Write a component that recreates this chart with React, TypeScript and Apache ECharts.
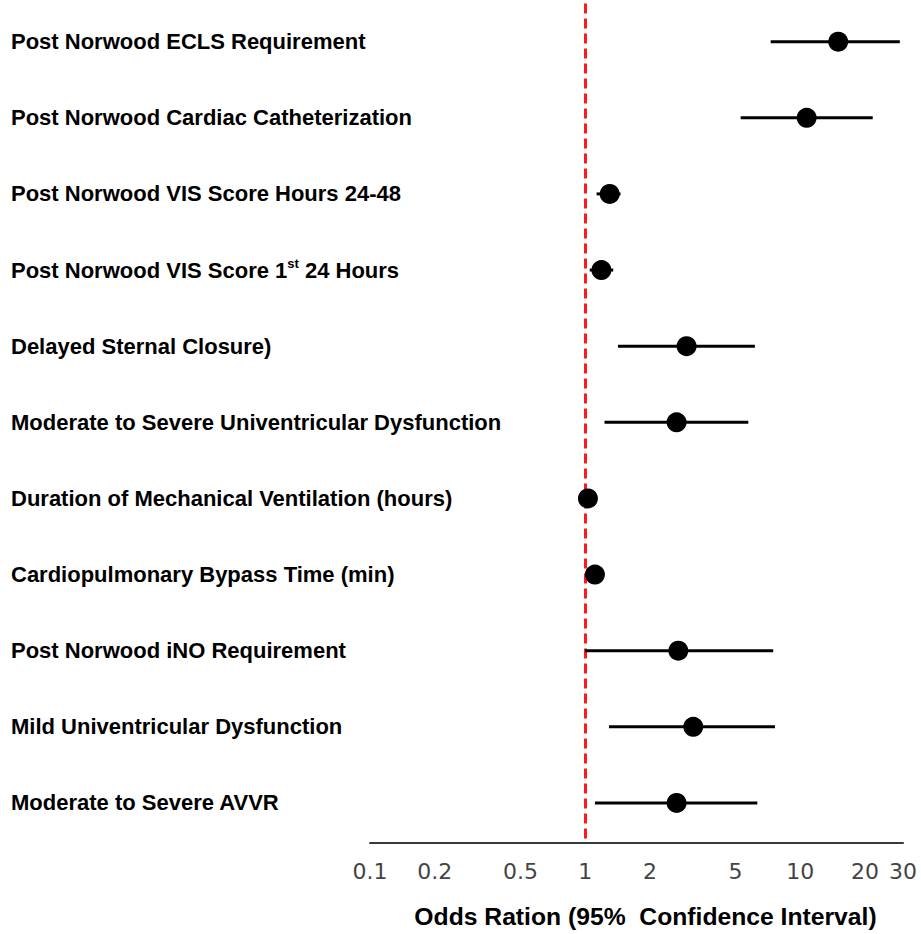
import React, { useEffect, useRef } from "react";
import * as echarts from "echarts";

const categories = [
  "Post Norwood ECLS Requirement",
  "Post Norwood Cardiac Catheterization",
  "Post Norwood VIS Score Hours 24-48",
  "Post Norwood VIS Score 1st 24 Hours",
  "Delayed Sternal Closure)",
  "Moderate to Severe Univentricular Dysfunction",
  "Duration of Mechanical Ventilation (hours)",
  "Cardiopulmonary Bypass Time (min)",
  "Post Norwood iNO Requirement",
  "Mild Univentricular Dysfunction",
  "Moderate to Severe AVVR",
];

const oddsRatio = [15.0, 10.7, 1.3, 1.19, 2.96, 2.66, 1.03, 1.11, 2.71, 3.18, 2.66];
const lowerCI = [7.28, 5.28, 1.13, 1.05, 1.42, 1.23, 1.0, 1.06, 1.0, 1.29, 1.11];
const upperCI = [29.0, 21.7, 1.46, 1.35, 6.15, 5.73, 1.06, 1.17, 7.48, 7.62, 6.31];

const xTicks = [0.1, 0.2, 0.5, 1, 2, 5, 10, 20, 30];
const xTitle = "Odds Ration (95%  Confidence Interval)";
const refValue = 1;

const LABEL_FONT = "'Liberation Sans', Arial, Helvetica, sans-serif";

function buildOption(useCustomValues: boolean): any {
  const axisLabel: any = {
    fontSize: 22,
    color: "#444",
    fontFamily: "'DejaVu Sans', sans-serif",
    margin: 17,
    formatter: (v: number) => String(Number(Number(v).toPrecision(6))),
  };
  if (useCustomValues) axisLabel.customValues = xTicks;
  return {
    animation: false,
    backgroundColor: "#ffffff",
    grid: {
      left: 370,
      right: 18,
      top: 3.6,
      bottom: 92.6,
      containLabel: false,
    },
    xAxis: {
      type: "log",
      logBase: 10,
      min: 0.1,
      max: 30,
      position: "bottom",
      offset: 2,
      name: xTitle,
      nameLocation: "middle",
      nameGap: 61,
      nameTextStyle: {
        fontSize: 24.7,
        fontWeight: "bold",
        color: "#000",
        fontFamily: LABEL_FONT,
        padding: [0, 0, 0, 18],
      },
      axisLine: { show: true, lineStyle: { color: "#3a3a3a", width: 2 } },
      axisTick: { show: false },
      splitLine: { show: false },
      axisLabel,
    },
    yAxis: {
      type: "category",
      data: categories,
      inverse: true,
      axisLine: { show: false },
      axisTick: { show: false },
      splitLine: { show: false },
      axisLabel: {
        interval: 0,
        margin: 359,
        align: "left",
        fontSize: 22,
        fontWeight: "bold",
        color: "#000",
        fontFamily: LABEL_FONT,
        lineHeight: 26,
        formatter: (v: string) => v.replace("1st", "1{sup|st}"),
        rich: {
          sup: {
            fontSize: 13,
            fontWeight: "bold",
            color: "#000",
            fontFamily: LABEL_FONT,
            verticalAlign: "top",
            lineHeight: 16,
          },
        },
      },
    },
    series: [
      {
        type: "custom",
        z: 3,
        encode: { x: [0, 1], y: 2 },
        data: categories.map((_, i) => [lowerCI[i], upperCI[i], i]),
        renderItem: (params: any, api: any) => {
          const a = api.coord([api.value(0), api.value(2)]);
          const b = api.coord([api.value(1), api.value(2)]);
          return {
            type: "line",
            shape: { x1: a[0], y1: a[1], x2: b[0], y2: b[1] },
            style: { stroke: "#000", lineWidth: 3 },
          };
        },
      },
      {
        type: "scatter",
        z: 5,
        symbol: "circle",
        symbolSize: 20,
        itemStyle: { color: "#000", opacity: 1 },
        data: categories.map((_, i) => [oddsRatio[i], i]),
        markLine: {
          silent: true,
          symbol: "none",
          label: { show: false },
          lineStyle: { color: "#ff1a1a", type: [10, 5], width: 3, opacity: 1 },
          data: [{ xAxis: refValue }],
          z: 1,
        },
      },
    ],
  };
}

export default function App() {
  const ref = useRef<HTMLDivElement>(null);

  useEffect(() => {
    if (!ref.current) return;
    const chart = echarts.init(ref.current, undefined, { renderer: "svg" });
    try {
      chart.setOption(buildOption(true));
    } catch (e) {
      console.error("customValues failed", e);
      chart.clear();
      chart.setOption(buildOption(false), true);
    }
    return () => chart.dispose();
  }, []);

  return (
    <div
      ref={ref}
      style={{ position: "fixed", left: 0, top: 0, width: 921, height: 934, background: "#fff" }}
    />
  );
}
